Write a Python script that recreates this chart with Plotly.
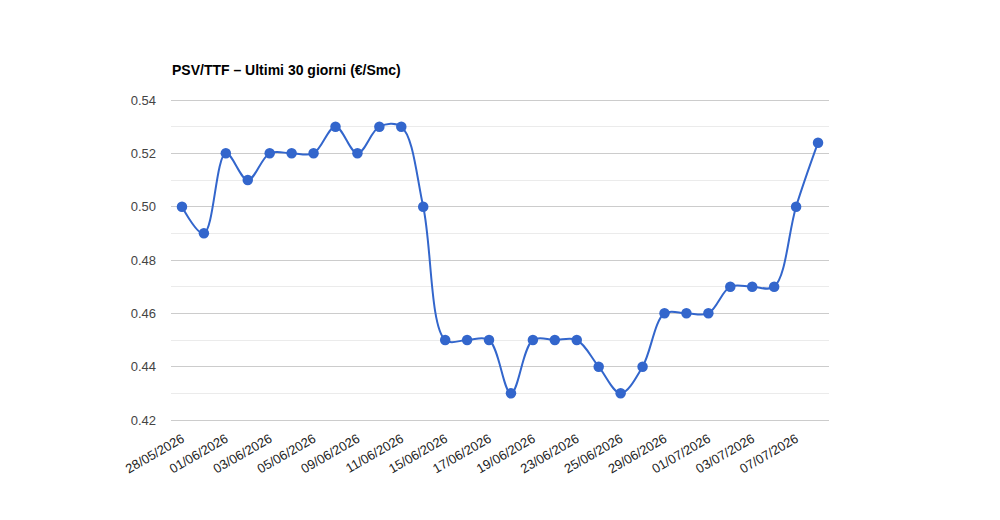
import plotly.graph_objects as go

dates = ["28/05/2026", "29/05/2026", "01/06/2026", "02/06/2026", "03/06/2026", "04/06/2026",
         "05/06/2026", "08/06/2026", "09/06/2026", "10/06/2026", "11/06/2026", "12/06/2026",
         "15/06/2026", "16/06/2026", "17/06/2026", "18/06/2026", "19/06/2026", "22/06/2026",
         "23/06/2026", "24/06/2026", "25/06/2026", "26/06/2026", "29/06/2026", "30/06/2026",
         "01/07/2026", "02/07/2026", "03/07/2026", "06/07/2026", "07/07/2026", "08/07/2026"]
values = [0.50, 0.49, 0.52, 0.51, 0.52, 0.52, 0.52, 0.53, 0.52, 0.53, 0.53, 0.50,
          0.45, 0.45, 0.45, 0.43, 0.45, 0.45, 0.45, 0.44, 0.43, 0.44, 0.46, 0.46,
          0.46, 0.47, 0.47, 0.47, 0.50, 0.524]
tick_labels = dates[::2]
y_ticks = [0.42, 0.44, 0.46, 0.48, 0.50, 0.52, 0.54]
title = "PSV/TTF – Ultimi 30 giorni (€/Smc)"

fig = go.Figure()
fig.add_trace(go.Scatter(
    x=dates, y=values, mode="lines+markers",
    line=dict(color="#3366cc", width=2, shape="spline", smoothing=1),
    marker=dict(color="#3366cc", size=10.5),
    hoverinfo="x+y", showlegend=False,
))

fig.update_layout(
    width=1000, height=520,
    margin=dict(l=171, r=171, t=98, b=98),
    paper_bgcolor="white", plot_bgcolor="white",
    font=dict(family="Liberation Sans, Arial, sans-serif", color="#444444", size=13),
    title=dict(text=title, x=0.172, xanchor="left", xref="container",
               y=1 - 70 / 520, yanchor="middle", yref="container",
               font=dict(family="Liberation Sans, Arial, sans-serif", size=14,
                         color="#000000", weight="bold")),
    xaxis=dict(type="category", tickmode="array", tickvals=tick_labels, ticktext=tick_labels,
               tickangle=-30, showgrid=False, showline=False, zeroline=False,
               ticks="", tickfont=dict(size=13, color="#222222"), ticklabelstandoff=6,
               range=[-0.5, len(dates) - 0.5]),
    yaxis=dict(range=[0.41925, 0.54075], tickvals=y_ticks, tickformat=".2f",
               showgrid=True, gridcolor="#cccccc", gridwidth=1,
               zeroline=False, showline=False, ticks="",
               tickfont=dict(size=13, color="#444444"), ticklabelstandoff=14,
               minor=dict(dtick=0.01, showgrid=True, gridcolor="#ebebeb", gridwidth=1)),
)

fig.write_html("out.html")
